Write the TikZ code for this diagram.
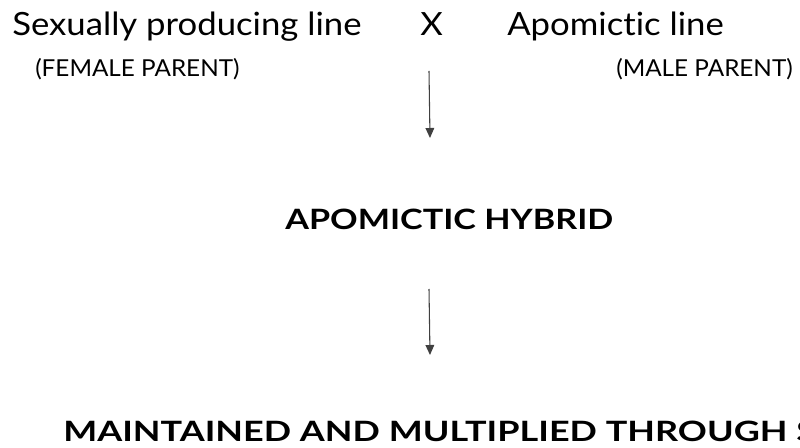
\documentclass[tikz,border=0pt]{standalone}
\usepackage{fontspec}
\setmainfont{Lato}[Ligatures=NoCommon]
\newfontfamily\bigfont{Lato}[Ligatures=NoCommon,FakeStretch=1.085]
\newfontfamily\smallfont{Lato}[Ligatures=NoCommon,FakeStretch=1.04]
\newfontfamily\hybfont{Lato}[Ligatures=NoCommon,FakeStretch=1.22]
\newfontfamily\mainfont{Lato}[Ligatures=NoCommon,FakeStretch=1.285]
\usetikzlibrary{arrows.meta}
\begin{document}
\begin{tikzpicture}[x=0.75pt,y=-0.75pt,
  big/.style={inner sep=0pt,anchor=base west,font=\bigfont\fontsize{24}{28}\selectfont},
  small/.style={inner sep=0pt,anchor=base west,font=\smallfont\fontsize{17.5}{20}\selectfont},
  head/.style={inner sep=0pt,anchor=base west,font=\bfseries\fontsize{21}{25}\selectfont},
  arr/.style={line width=0.8pt,draw=black!75,-{Triangle[width=6.5pt,length=7.5pt]}}]
\clip (0,0) rectangle (800,448);
\useasboundingbox (0,0) rectangle (800,448);
\node[big] (sex) at (12,36) {Sexually producing line};
\node[small] (fem) at (35,77) {(FEMALE PARENT)};
\node[big] (x) at (420,36) {X};
\node[big] (apo) at (507,36) {Apomictic line};
\node[small] (male) at (616,77) {(MALE PARENT)};
\node[head] (hyb) at (285,230) {\hybfont\bfseries APOMICTIC HYBRID};
\node[head] (main) at (63,442) {\mainfont\bfseries MAINTAINED AND MULTIPLIED THROUGH S};
\coordinate (a1s) at (429,71);
\coordinate (a1e) at (430,138);
\coordinate (a2s) at (429,289);
\coordinate (a2e) at (430,355);
\draw[arr] (a1s) -- (a1e);
\draw[arr] (a2s) -- (a2e);
\end{tikzpicture}
\end{document}
